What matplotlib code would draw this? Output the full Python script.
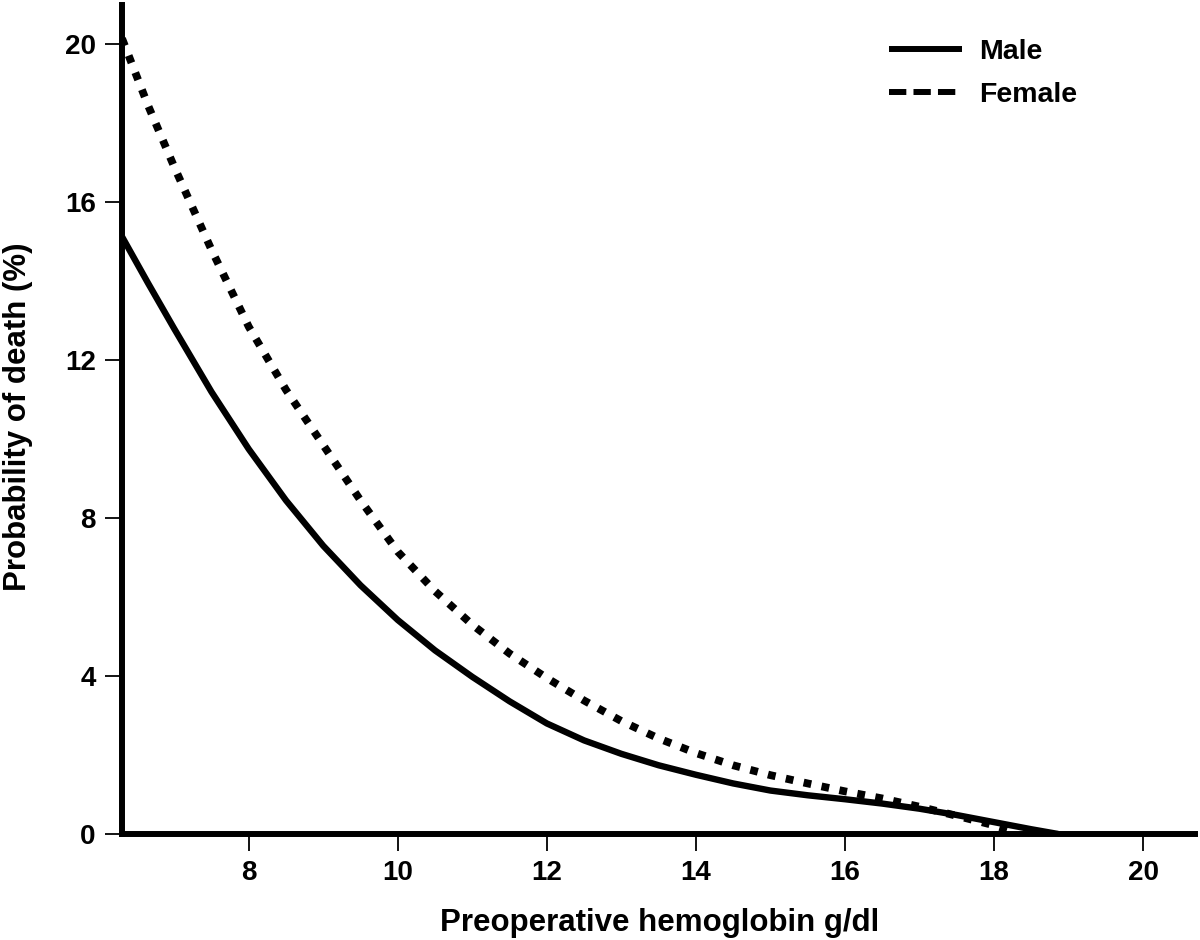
import matplotlib
matplotlib.use("Agg")
import matplotlib.pyplot as plt
from matplotlib.lines import Line2D

# Data (hemoglobin g/dl, probability of death %)
hb_m = [6.3, 6.65, 7, 7.5, 8, 8.5, 9, 9.5, 10, 10.5, 11, 11.5, 12, 12.5, 13,
        13.5, 14, 14.5, 15, 15.5, 16, 16.5, 17, 17.5, 18, 18.5, 18.86]
male = [15.13, 13.95, 12.8, 11.2, 9.75, 8.45, 7.3, 6.3, 5.42, 4.65, 3.98, 3.36, 2.8, 2.37, 2.03,
        1.74, 1.5, 1.28, 1.1, 0.98, 0.88, 0.77, 0.64, 0.48, 0.30, 0.12, 0.0]
hb_f = [6.3, 6.65, 7, 7.5, 8, 8.5, 9, 9.5, 10, 10.5, 11, 11.5, 12, 12.5, 13,
        13.5, 14, 14.5, 15, 15.5, 16, 16.5, 17, 17.5, 18, 18.3]
female = [20.15, 18.45, 16.9, 14.8, 12.85, 11.25, 9.85, 8.45, 7.15, 6.15, 5.3, 4.57, 3.95, 3.38, 2.86,
          2.42, 2.05, 1.74, 1.49, 1.28, 1.08, 0.9, 0.69, 0.46, 0.22, 0.05]
xticks = [8, 10, 12, 14, 16, 18, 20]
yticks = [0, 4, 8, 12, 16, 20]
series_names = ["Male", "Female"]

plt.rcParams['font.family'] = ['Liberation Sans', 'DejaVu Sans']
plt.rcParams['font.weight'] = 'bold'

fig = plt.figure(figsize=(12, 9.4), dpi=100)
ax = fig.add_axes([0.1017, 0.1128, 0.8943, 0.8819])

ax.plot(hb_m, male, color='black', lw=4.6, solid_capstyle='butt', solid_joinstyle='round')
ax.plot(hb_f, female, color='black', lw=5.6, linestyle=(0, (1.0, 1.35)), dash_capstyle='butt')

ax.set_xlim(6.3, 20.7)
ax.set_ylim(0, 21)
ax.set_xticks(xticks)
ax.set_yticks(yticks)
ax.tick_params(axis='both', direction='out', length=12, width=1.3, labelsize=20, pad=7)
for lab in ax.get_xticklabels() + ax.get_yticklabels():
    lab.set_fontweight('bold')

for s in ['top', 'right']:
    ax.spines[s].set_visible(False)
for s in ['left', 'bottom']:
    ax.spines[s].set_linewidth(4.3)

ax.set_xlabel("Preoperative hemoglobin g/dl", fontsize=22.5, fontweight='bold')
ax.set_ylabel("Probability of death (%)", fontsize=22.5, fontweight='bold')
ax.xaxis.label.set_va('baseline')
ax.xaxis.set_label_coords(0.501, -0.117)
ax.yaxis.set_label_coords(-0.083, 0.503)

handles = [Line2D([], [], color='black', lw=4.3, solid_capstyle='butt'),
           Line2D([], [], color='black', lw=4.3, linestyle=(0, (2.9, 1.2)), dash_capstyle='butt')]
leg = ax.legend(handles, series_names, loc='upper left', bbox_to_anchor=(0.691, 0.99),
                frameon=False, handlelength=2.56, handletextpad=0.6,
                labelspacing=0.6, prop={'weight': 'bold', 'size': 20.5})

fig.savefig("out.png", dpi=100)
